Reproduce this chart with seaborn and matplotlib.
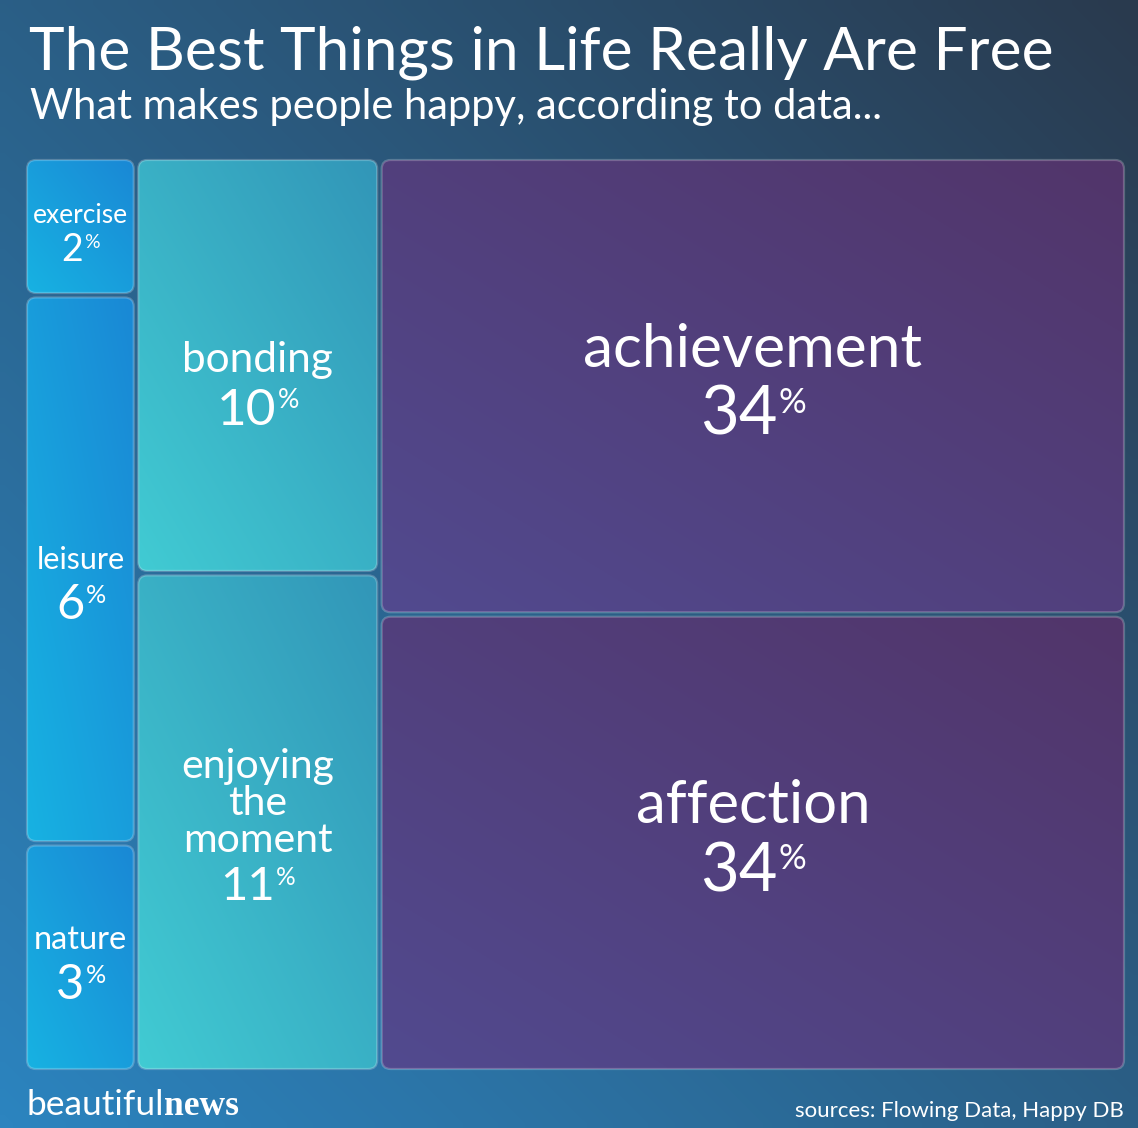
import numpy as np
import matplotlib
matplotlib.use("Agg")
import matplotlib.pyplot as plt
from matplotlib.patches import FancyBboxPatch
import seaborn as sns

# data
categories = ["exercise", "leisure", "nature", "bonding", "enjoying\nthe\nmoment", "achievement", "affection"]
percents = [2, 6, 3, 10, 11, 34, 34]
groups = [0, 0, 0, 1, 1, 2, 2]
# tile areas as drawn (the labels are rounded)
tile_areas = [1.52, 6.06, 2.52, 10.05, 12.05, 33.9, 33.9]

title = "The Best Things in Life Really Are Free"
subtitle = "What makes people happy, according to data..."
source = "sources: Flowing Data, Happy DB"

# styles
group_colors = [("#17b2e2", "#1a88d5"), ("#41cbd3", "#3296b8"), ("#514a8f", "#52356a")]
name_size = [19, 22, 23.5, 30.5, 29.5, 43.5, 43]
pct_size = [27, 35, 35, 37, 34, 48, 48]
y_shift = [6, 14, 5, 18, 2, -7, -7]
W, H = 1138, 1128
box = (27, 160, 1124, 1069)
gap = 4.5

sns.set_theme(style="white")
plt.rcParams["font.family"] = ["Lato", "DejaVu Sans"]

fig = plt.figure(figsize=(W / 100, H / 100), dpi=100)
ax = fig.add_axes([0, 0, 1, 1])
ax.set_xlim(0, W)
ax.set_ylim(H, 0)
ax.axis("off")


def gradient(x0, y0, x1, y1, light, dark, clip=None, n=128):
    u = np.linspace(0, 1, n)[None, :]
    v = np.linspace(0, 1, n)[:, None]
    t = (u + (1 - v)) / 2
    cmap = sns.blend_palette([light, dark], as_cmap=True)
    im = ax.imshow(t, cmap=cmap, vmin=0, vmax=1, origin="upper",
                   extent=(x0, x1, y1, y0), interpolation="bilinear", zorder=1)
    if clip is not None:
        im.set_clip_path(clip)
    return im


# background
gradient(0, 0, W, H, "#2c84bf", "#293a4e")
ax.set_xlim(0, W)
ax.set_ylim(H, 0)

# slice-and-dice treemap layout
tile_areas = np.array(tile_areas, dtype=float)
groups = np.array(groups)
total = tile_areas.sum()
bx0, by0, bx1, by1 = box
avail_w = bx1 - bx0 + gap
avail_h = by1 - by0 + gap

rend = fig.canvas.get_renderer()
px = 100 / 72

x = bx0
for g in range(groups.max() + 1):
    idx = np.where(groups == g)[0]
    gsum = tile_areas[idx].sum()
    w = avail_w * gsum / total - gap
    y = by0
    for i in idx:
        h = avail_h * tile_areas[i] / gsum - gap
        patch = FancyBboxPatch((x, y), w, h, boxstyle="round,pad=0,rounding_size=9",
                               facecolor="none", edgecolor=(1, 1, 1, 0.22), lw=1.6, zorder=3)
        ax.add_patch(patch)
        clip = FancyBboxPatch((x, y), w, h, boxstyle="round,pad=0,rounding_size=9",
                              transform=ax.transData)
        light, dark = group_colors[g]
        gradient(x, y, x + w, y + h, light, dark, clip=clip)

        # label block
        lines = categories[i].split("\n")
        nfs, pfs = name_size[i], pct_size[i]
        line_gap = nfs * px * 0.9
        asc = nfs * px * 0.72
        pct_gap = pfs * px * 1.02
        block = asc + line_gap * (len(lines) - 1) + pct_gap
        cx, cy = x + w / 2, y + h / 2 + y_shift[i]
        b = cy - block / 2 + asc
        for ln in lines:
            ax.text(cx, b, ln, ha="center", va="baseline", color="white",
                    fontsize=nfs, zorder=5)
            b += line_gap
        b += pct_gap - line_gap
        num = ax.text(cx, b, str(percents[i]), ha="left", va="baseline", color="white",
                      fontsize=pfs, zorder=5)
        sign = ax.text(cx, b - pfs * px * 0.72, "%", ha="left", va="top", color="white",
                       fontsize=pfs * 0.52, zorder=5)
        nw = num.get_window_extent(rend).width
        sw = sign.get_window_extent(rend).width
        start = cx - (nw + sw) / 2
        num.set_x(start)
        sign.set_x(start + nw + 1)
        y += h + gap
    x += w + gap

# titles
ax.text(29, 69, title, color="white", fontsize=43.5, ha="left", va="baseline", zorder=5)
ax.text(30, 119, subtitle, color="white", fontsize=30,
        ha="left", va="baseline", zorder=5)

# footer
b1 = ax.text(27, 1115, "beautiful", color="white", fontsize=25.5, ha="left", va="baseline", zorder=5)
bw = b1.get_window_extent(rend).width
ax.text(27 + bw, 1115, "news", color="white", fontsize=25.5, fontweight="bold",
        family=["Liberation Serif", "DejaVu Serif"], ha="left", va="baseline", zorder=5)
ax.text(1124, 1117, source, color="white", fontsize=16,
        ha="right", va="baseline", zorder=5)

fig.savefig("out.png", dpi=100)
